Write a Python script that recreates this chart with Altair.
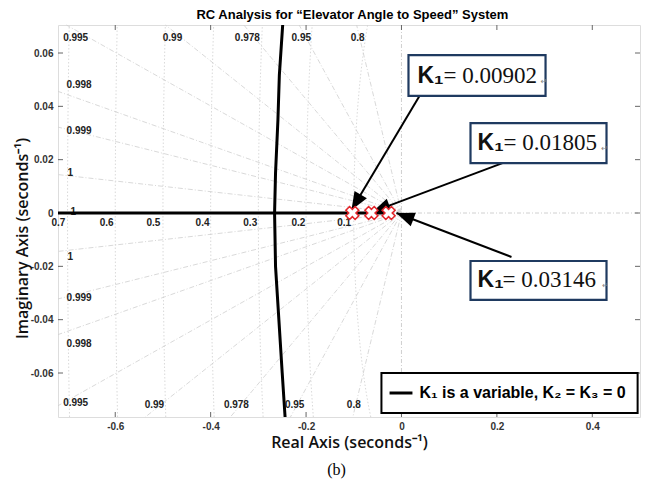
import math
import numpy as np
import pandas as pd
import altair as alt

# ---------------- values ----------------
x_domain = [-0.72, 0.50]
y_domain = [-0.0765, 0.0705]
W, H = 582, 392

x_ticks = [-0.6, -0.4, -0.2, 0, 0.2, 0.4]
y_ticks = [-0.06, -0.04, -0.02, 0, 0.02, 0.04, 0.06]

# complex branch of the root locus
locus_y = [0.0705, 0.0517, 0.0349, 0.015, 0.0, -0.02, -0.04, -0.06, -0.0765]
locus_x = [-0.249, -0.256, -0.259, -0.264, -0.266, -0.264, -0.257, -0.250, -0.244]
# real-axis branch
real_x = [-0.72, -0.02]
real_y = [0.0, 0.0]
# marked closed-loop poles
pole_x = [-0.103, -0.063, -0.027]
pole_y = [0.0, 0.0, 0.0]

# s-grid
zeta_values = [0.9998, 0.999, 0.998, 0.995, 0.99, 0.978, 0.95, 0.8]
wn_values = [0.1, 0.2, 0.3, 0.4, 0.5, 0.6, 0.7]

top_lbl_text = ["0.995", "0.99", "0.978", "0.95", "0.8"]
top_lbl_x = [-0.683, -0.480, -0.323, -0.210, -0.092]
top_lbl_y = [0.0656, 0.0656, 0.0656, 0.0656, 0.0656]
bot_lbl_text = ["0.995", "0.99", "0.978", "0.95", "0.8"]
bot_lbl_x = [-0.683, -0.518, -0.346, -0.224, -0.100]
bot_lbl_y = [-0.0712, -0.0720, -0.0720, -0.0720, -0.0720]
left_lbl_text = ["0.998", "0.999", "1", "1", "1", "0.999", "0.998"]
left_lbl_x = [-0.702, -0.702, -0.700, -0.694, -0.700, -0.702, -0.702]
left_lbl_y = [0.0480, 0.0307, 0.0150, 0.0003, -0.0165, -0.0319, -0.0491]
wn_lbl_text = ["0.7", "0.6", "0.5", "0.4", "0.3", "0.2", "0.1"]
wn_lbl_x = [-0.719, -0.618, -0.520, -0.417, -0.317, -0.216, -0.120]
wn_lbl_y = [-0.0036] * 7

# gain annotation boxes
box_x = [0.0147, 0.1447, 0.1447]
box_x2 = [0.302, 0.4298, 0.4298]
box_y = [0.0592, 0.0337, -0.0180]
box_y2 = [0.0439, 0.0187, -0.0326]
k_lbl_x = [0.0335, 0.1595, 0.1595]
eq_lbl_x = [0.0880, 0.2137, 0.2116]
k_lbl_y = [0.0514, 0.0262, -0.0251]
k_values = ["= 0.00902", "= 0.01805", "= 0.03146"]
ret_x = [0.292, 0.419, 0.421]

# arrows: start -> tip
arr_x = [0.0377, 0.2117, 0.2306]
arr_y = [0.0439, 0.0187, -0.0165]
arr_tx = [-0.1048, -0.0608, -0.0105]
arr_ty = [0.0011, 0.0004, 0.0]

# legend
leg_box = [-0.042, 0.495, -0.0600, -0.0750]
leg_line = [-0.025, 0.023, -0.0675]
leg_text = "K\u2081 is a variable, K\u2082 = K\u2083 = 0"
leg_text_x = 0.0377

cap_text = "(b)"
cap_x = -0.136
cap_y = -0.0962

title_text = "RC Analysis for  \u201cElevator Angle to Speed\u201d System"
title_x = -0.103
title_y = 0.0741

# ---------------- build tables ----------------
xs = alt.Scale(domain=x_domain, nice=False, zero=False)
ys = alt.Scale(domain=y_domain, nice=False, zero=False)

x_axis = alt.Axis(values=x_ticks, tickSize=0, domain=False, grid=False,
                  labelPadding=4, labelFontSize=10, labelFont="Liberation Sans",
                  labelFontWeight="bold", labelColor="#333",
                  labelExpr="'' + datum.value",
                  title="Real Axis (seconds\u207b\u00b9)", titleFont="Open Sans",
                  titleFontSize=16, titleFontWeight=600, titleColor="#111",
                  titleY=17, titleBaseline="top")
y_axis = alt.Axis(values=y_ticks, tickSize=0, domain=False, grid=False,
                  labelPadding=5, labelFontSize=10, labelFont="Liberation Sans",
                  labelFontWeight="bold", labelColor="#333",
                  labelExpr="'' + datum.value",
                  title="Imaginary Axis (seconds\u207b\u00b9)", titleFont="Open Sans",
                  titleFontSize=16, titleFontWeight=600, titleColor="#111",
                  titleX=-28, titleY=213, titleAngle=270, titleAlign="center",
                  titleBaseline="bottom")


def X(f="x"):
    return alt.X(f, type="quantitative", scale=xs, axis=x_axis)


def Y(f="y"):
    return alt.Y(f, type="quantitative", scale=ys, axis=y_axis)


# zeta rays
zrows = []
for i, z in enumerate(zeta_values):
    m = math.sqrt(1 - z * z) / z
    for sgn in (1, -1):
        lim = y_domain[1] if sgn > 0 else -y_domain[0]
        xe = max(x_domain[0], -lim / m)
        zrows.append(dict(g=f"{i}_{sgn}", o=0, x=0.0, y=0.0))
        zrows.append(dict(g=f"{i}_{sgn}", o=1, x=xe, y=sgn * m * (-xe)))
zeta_df = pd.DataFrame(zrows)

# wn arcs
wrows = []
for w in wn_values:
    for k, yy in enumerate(np.linspace(y_domain[0], y_domain[1], 61)):
        if abs(yy) < w:
            wrows.append(dict(g=str(w), o=k, x=-math.sqrt(w * w - yy * yy), y=yy))
wn_df = pd.DataFrame(wrows)

axes_df = pd.DataFrame({"x": [x_domain[0], 0.0], "x2": [x_domain[1], 0.0],
                        "y": [0.0, y_domain[0]], "y2": [0.0, y_domain[1]]})

locus_df = pd.DataFrame({"x": locus_x, "y": locus_y, "o": range(len(locus_x))})
real_df = pd.DataFrame({"x": real_x, "y": real_y, "o": range(len(real_x))})
pole_df = pd.DataFrame({"x": pole_x, "y": pole_y})

lbl_c_df = pd.DataFrame({"x": top_lbl_x + bot_lbl_x + wn_lbl_x,
                         "y": top_lbl_y + bot_lbl_y + wn_lbl_y,
                         "t": top_lbl_text + bot_lbl_text + wn_lbl_text})
lbl_l_df = pd.DataFrame({"x": left_lbl_x, "y": left_lbl_y, "t": left_lbl_text})

# ticks (inward, MATLAB style)
tx = 5 / W * (x_domain[1] - x_domain[0])
ty = 5 / H * (y_domain[1] - y_domain[0])
trows = []
for v in x_ticks:
    trows.append(dict(x=v, x2=v, y=y_domain[0], y2=y_domain[0] + ty))
    trows.append(dict(x=v, x2=v, y=y_domain[1], y2=y_domain[1] - ty))
for v in y_ticks:
    trows.append(dict(x=x_domain[0], x2=x_domain[0] + tx, y=v, y2=v))
    trows.append(dict(x=x_domain[1], x2=x_domain[1] - tx, y=v, y2=v))
tick_df = pd.DataFrame(trows)


def to_px(x, y):
    px = (x - x_domain[0]) / (x_domain[1] - x_domain[0]) * W
    py = (y_domain[1] - y) / (y_domain[1] - y_domain[0]) * H
    return px, py


angles = []
for a, b, c, d in zip(arr_x, arr_y, arr_tx, arr_ty):
    p0 = to_px(a, b)
    p1 = to_px(c, d)
    dx, dy = p1[0] - p0[0], p1[1] - p0[1]
    angles.append((math.degrees(math.atan2(dx, -dy)) + 360) % 360)
arrow_df = pd.DataFrame({"x": arr_x, "y": arr_y, "x2": arr_tx, "y2": arr_ty, "ang": angles})

box_df = pd.DataFrame({"x": box_x, "x2": box_x2, "y": box_y, "y2": box_y2})
k_df = pd.DataFrame({"x": k_lbl_x, "y": k_lbl_y, "t": ["K\u2081"] * 3})
eq_df = pd.DataFrame({"x": eq_lbl_x, "y": k_lbl_y, "t": k_values})
ret_df = pd.DataFrame({"x": ret_x, "y": [v - 0.0022 for v in k_lbl_y], "t": ["\u21b5"] * 3})

leg_box_df = pd.DataFrame({"x": [leg_box[0]], "x2": [leg_box[1]], "y": [leg_box[2]], "y2": [leg_box[3]]})
leg_line_df = pd.DataFrame({"x": [leg_line[0]], "x2": [leg_line[1]], "y": [leg_line[2]], "y2": [leg_line[2]]})
leg_text_df = pd.DataFrame({"x": [leg_text_x], "y": [leg_line[2]], "t": [leg_text]})
cap_df = pd.DataFrame({"x": [cap_x], "y": [cap_y], "t": [cap_text]})
title_df = pd.DataFrame({"x": [title_x], "y": [title_y], "t": [title_text]})

# ---------------- layers ----------------
grid_col = "#cfcfcf"
wn_layer = alt.Chart(wn_df).mark_line(color=grid_col, strokeWidth=0.8, strokeDash=[1.5, 2]).encode(
    x=X(), y=Y(), detail="g:N", order="o:Q")
zeta_layer = alt.Chart(zeta_df).mark_line(color=grid_col, strokeWidth=0.8, strokeDash=[5, 2, 1, 2]).encode(
    x=X(), y=Y(), detail="g:N", order="o:Q")
axes_layer = alt.Chart(axes_df).mark_rule(color="#c4c4c4", strokeWidth=0.8, strokeDash=[4, 2, 1, 2]).encode(
    x=X(), x2=alt.X2("x2"), y=Y(), y2=alt.Y2("y2"))
tick_layer = alt.Chart(tick_df).mark_rule(color="#666", strokeWidth=1).encode(
    x=X(), x2=alt.X2("x2"), y=Y(), y2=alt.Y2("y2"))

lbl_c = alt.Chart(lbl_c_df).mark_text(font="Liberation Sans", fontSize=10, fontWeight="bold",
                                      color="#222", align="center", baseline="middle").encode(
    x=X(), y=Y(), text="t:N")
lbl_l = alt.Chart(lbl_l_df).mark_text(font="Liberation Sans", fontSize=10, fontWeight="bold",
                                      color="#222", align="left", baseline="middle").encode(
    x=X(), y=Y(), text="t:N")

real_layer = alt.Chart(real_df).mark_line(color="black", strokeWidth=3).encode(
    x=X(), y=Y(), order="o:Q")
locus_layer = alt.Chart(locus_df).mark_line(color="black", strokeWidth=3).encode(
    x=X(), y=Y(), order="o:Q")
pole_layer = alt.Chart(pole_df).mark_point(shape="cross", angle=45, size=170, filled=True,
                                           fill="white", stroke="#e3262b", strokeWidth=1.6,
                                           opacity=1).encode(x=X(), y=Y())

arrow_line = alt.Chart(arrow_df).mark_rule(color="black", strokeWidth=2).encode(
    x=X(), x2=alt.X2("x2"), y=Y(), y2=alt.Y2("y2"))
arrow_head = alt.Chart(arrow_df).mark_point(shape="M0,0L0.4,1L-0.4,1Z", size=1300, filled=True,
                                            color="black", opacity=1).encode(
    x=X("x2"), y=Y("y2"), angle=alt.Angle("ang:Q", scale=None))

box_layer = alt.Chart(box_df).mark_rect(fill="white", stroke="#1f3a60", strokeWidth=2.2).encode(
    x=X(), x2=alt.X2("x2"), y=Y(), y2=alt.Y2("y2"))
k_layer = alt.Chart(k_df).mark_text(font="Liberation Sans", fontSize=23, fontWeight="bold",
                                    color="#111", align="left", baseline="middle").encode(
    x=X(), y=Y(), text="t:N")
eq_layer = alt.Chart(eq_df).mark_text(font="Liberation Serif", fontSize=23, color="#111",
                                      align="left", baseline="middle").encode(
    x=X(), y=Y(), text="t:N")
ret_layer = alt.Chart(ret_df).mark_text(font="DejaVu Sans", fontSize=8, color="#888",
                                        align="left", baseline="middle").encode(
    x=X(), y=Y(), text="t:N")

leg_box_layer = alt.Chart(leg_box_df).mark_rect(fill="white", stroke="black", strokeWidth=2).encode(
    x=X(), x2=alt.X2("x2"), y=Y(), y2=alt.Y2("y2"))
leg_line_layer = alt.Chart(leg_line_df).mark_rule(color="black", strokeWidth=3).encode(
    x=X(), x2=alt.X2("x2"), y=Y(), y2=alt.Y2("y2"))
leg_text_layer = alt.Chart(leg_text_df).mark_text(font="Liberation Sans", fontSize=16, fontWeight="bold",
                                                  color="black", align="left", baseline="middle").encode(
    x=X(), y=Y(), text="t:N")
cap_layer = alt.Chart(cap_df).mark_text(font="Liberation Serif", fontSize=16, color="black",
                                        align="center", baseline="middle").encode(
    x=X(), y=Y(), text="t:N")
title_layer = alt.Chart(title_df).mark_text(font="Liberation Sans", fontSize=13, fontWeight="bold",
                                            color="black", align="center", baseline="middle").encode(
    x=X(), y=Y(), text="t:N")

chart = alt.layer(
    wn_layer, zeta_layer, axes_layer, tick_layer, lbl_c, lbl_l,
    real_layer, locus_layer, arrow_line, arrow_head, pole_layer,
    box_layer, k_layer, eq_layer, ret_layer,
    leg_box_layer, leg_line_layer, leg_text_layer, cap_layer, title_layer
).properties(
    width=W, height=H,
    padding={"left": 50, "top": 17, "right": 2, "bottom": 62},
    autosize=alt.AutoSizeParams(type="none"),
).configure_view(stroke="#8a8a8a", strokeWidth=1).configure(background="white")

chart.save("out.html", embed_options={"renderer": "svg", "actions": False})
